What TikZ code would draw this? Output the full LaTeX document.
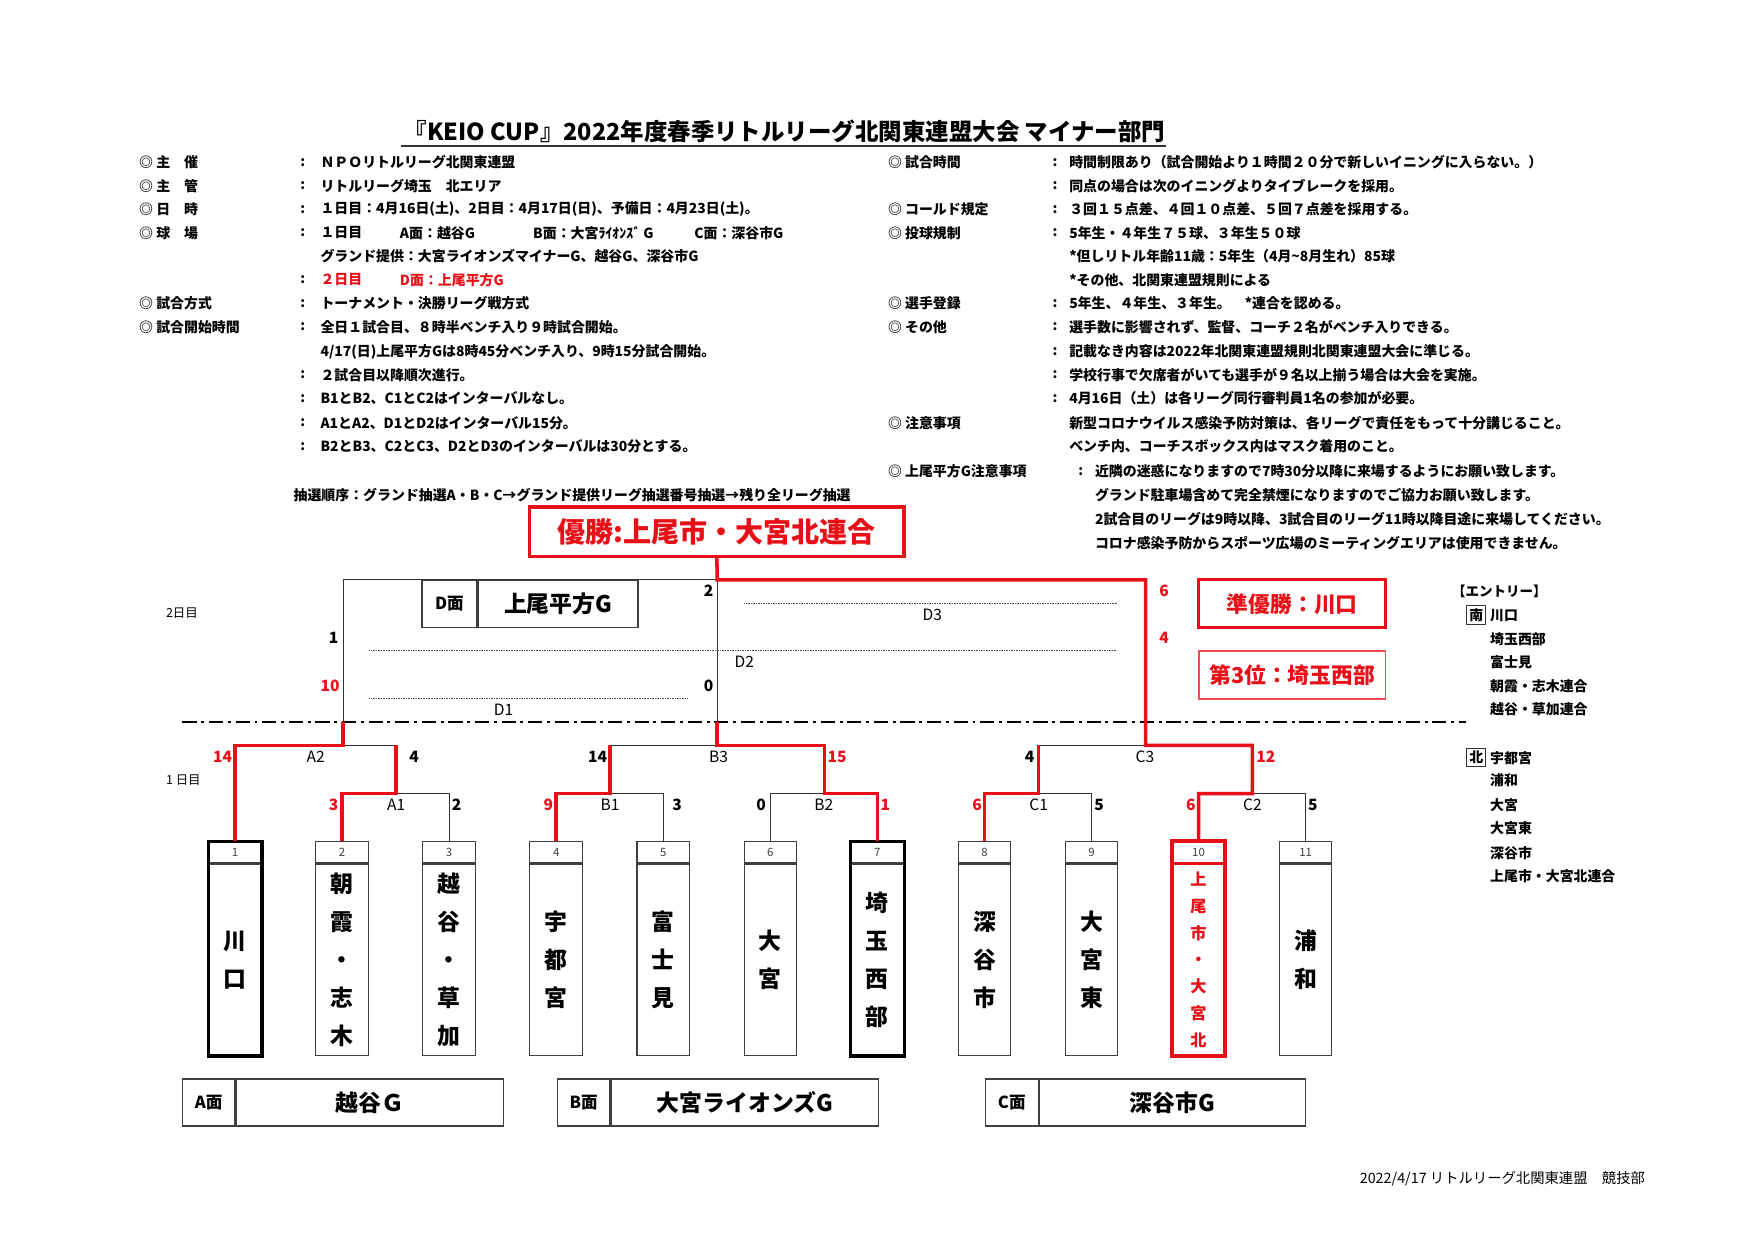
\documentclass[tikz,border=0pt]{standalone}
\usepackage{fontspec}
\setmainfont{Noto Sans CJK JP}
\usepackage{tikz}
\usetikzlibrary{positioning}
\definecolor{cupred}{RGB}{232,16,24}

\tikzset{
  txt/.style={anchor=west, inner sep=0pt, font=\fontsize{6.7}{8}\selectfont\bfseries},
  daytag/.style={anchor=west, inner sep=0pt, font=\fontsize{6}{7}\selectfont},
  tag/.style={inner sep=0pt, font=\fontsize{7.5}{8}\selectfont},
  score/.style={inner sep=0pt, font=\fontsize{7.5}{9}\selectfont\bfseries},
  lose/.style={draw=black!80, line width=0.5pt},
  win/.style={draw=cupred, line width=1.7pt},
  dotline/.style={draw=black!70, line width=0.4pt, dash pattern=on 0.4pt off 0.4pt},
  daysep/.style={draw=black, line width=0.7pt, dash pattern=on 2.4mm off 0.8mm on 0.5mm off 0.8mm},
  numcell/.style={draw=black!75, line width=0.5pt, fill=white, minimum width=8.9mm, minimum height=3.6mm, inner sep=0pt, text=black!75, font=\fontsize{5.5}{6}\selectfont},
  namecell/.style={draw=black!75, line width=0.5pt, minimum width=8.9mm, minimum height=32.39mm, inner sep=0pt, align=center, font=\fontsize{11}{18.3}\selectfont\bfseries},
  redname/.style={text=cupred, font=\fontsize{7.8}{12.9}\selectfont\bfseries},
  blackname/.style={},
  boldbox/.style={draw=black, line width=1.6pt},
  facetag/.style={draw=black!75, line width=0.6pt, minimum width=8.9mm, minimum height=7.95mm, inner sep=0pt, font=\fontsize{8}{9}\selectfont\bfseries},
  facename/.style={draw=black!75, line width=0.6pt, minimum height=7.95mm, inner sep=0pt, font=\fontsize{11}{12}\selectfont\bfseries},
  placebox/.style={minimum width=31.63mm, minimum height=8.1mm, inner sep=0pt, text=cupred, font=\fontsize{10.5}{12}\selectfont\bfseries},
}

\begin{document}
\begin{tikzpicture}[x=0.1894mm, y=-0.1894mm]
\useasboundingbox[fill=white] (0,0) rectangle (1568,1109);

% title
\node[inner sep=0pt, font=\fontsize{11.3}{13}\selectfont\bfseries] (title) at (701,117) {『KEIO CUP』2022年度春季リトルリーグ北関東連盟大会 マイナー部門};
\draw[lose, line width=0.7pt] ([xshift=-0.5mm, yshift=-0.5mm]title.south west) -- ([yshift=-0.5mm]title.south east);

% left column
\node[txt] (lh1) at (124,145) {◎ 主　催};
\node[txt] (lh2) at (124,166) {◎ 主　管};
\node[txt] (lh3) at (124,187) {◎ 日　時};
\node[txt] (lh4) at (124,208) {◎ 球　場};
\node[txt] (lh5) at (124,271) {◎ 試合方式};
\node[txt] (lh6) at (124,292) {◎ 試合開始時間};
\foreach \y [count=\i] in {145,166,187,208,250,271,292,335,356,378,399}
  \node[txt] (lc\i) at (268,\y) {:};
\node[txt] (lt1) at (286,145) {ＮＰＯリトルリーグ北関東連盟};
\node[txt] (lt2) at (286,166) {リトルリーグ埼玉　北エリア};
\node[txt] (lt3) at (286,187) {１日目：4月16日(土)、2日目：4月17日(日)、予備日：4月23日(土)。};
\node[txt] (lt4) at (286,208) {１日目};
\node[txt] (lt4a) at (357,208) {A面：越谷G};
\node[txt] (lt4b) at (476,208) {B面：大宮ﾗｲｵﾝｽﾞ G};
\node[txt] (lt4c) at (620,208) {C面：深谷市G};
\node[txt] (lt5) at (286,229) {グランド提供：大宮ライオンズマイナーG、越谷G、深谷市G};
\node[txt, text=cupred] (lt6) at (286,250) {２日目};
\node[txt, text=cupred] (lt6d) at (357,250) {D面：上尾平方G};
\node[txt] (lt7) at (286,271) {トーナメント・決勝リーグ戦方式};
\node[txt] (lt8) at (286,292) {全日１試合目、８時半ベンチ入り９時試合開始。};
\node[txt] (lt9) at (286,314) {4/17(日)上尾平方Gは8時45分ベンチ入り、9時15分試合開始。};
\node[txt] (lt10) at (286,335) {２試合目以降順次進行。};
\node[txt] (lt11) at (286,356) {B1とB2、C1とC2はインターバルなし。};
\node[txt] (lt12) at (286,378) {A1とA2、D1とD2はインターバル15分。};
\node[txt] (lt13) at (286,399) {B2とB3、C2とC3、D2とD3のインターバルは30分とする。};
\node[txt] (draw) at (262,442) {抽選順序：グランド抽選A・B・C→グランド提供リーグ抽選番号抽選→残り全リーグ抽選};

% right column
\node[txt] (rh1) at (793,145) {◎ 試合時間};
\node[txt] (rh2) at (793,187) {◎ コールド規定};
\node[txt] (rh3) at (793,208) {◎ 投球規制};
\node[txt] (rh4) at (793,271) {◎ 選手登録};
\node[txt] (rh5) at (793,292) {◎ その他};
\node[txt] (rh6) at (793,378) {◎ 注意事項};
\node[txt] (rh7) at (793,421) {◎ 上尾平方G注意事項};
\foreach \y [count=\i] in {145,166,187,208,271,292,314,335,356}
  \node[txt] (rc\i) at (940,\y) {:};
\node[txt] (rc10) at (963,421) {:};
\node[txt] (rt1) at (955,145) {時間制限あり（試合開始より１時間２０分で新しいイニングに入らない。）};
\node[txt] (rt2) at (955,166) {同点の場合は次のイニングよりタイブレークを採用。};
\node[txt] (rt3) at (955,187) {３回１５点差、４回１０点差、５回７点差を採用する。};
\node[txt] (rt4) at (955,208) {5年生・４年生７５球、３年生５０球};
\node[txt] (rt5) at (955,229) {*但しリトル年齢11歳：5年生（4月\textasciitilde 8月生れ）85球};
\node[txt] (rt6) at (955,250) {*その他、北関東連盟規則による};
\node[txt] (rt7) at (955,271) {5年生、４年生、３年生。　*連合を認める。};
\node[txt] (rt8) at (955,292) {選手数に影響されず、監督、コーチ２名がベンチ入りできる。};
\node[txt] (rt9) at (955,314) {記載なき内容は2022年北関東連盟規則北関東連盟大会に準じる。};
\node[txt] (rt10) at (955,335) {学校行事で欠席者がいても選手が９名以上揃う場合は大会を実施。};
\node[txt] (rt11) at (955,356) {4月16日（土）は各リーグ同行審判員1名の参加が必要。};
\node[txt] (rt12) at (955,378) {新型コロナウイルス感染予防対策は、各リーグで責任をもって十分講じること。};
\node[txt] (rt13) at (955,399) {ベンチ内、コーチスボックス内はマスク着用のこと。};
\node[txt] (rt14) at (978,421) {近隣の迷惑になりますので7時30分以降に来場するようにお願い致します。};
\node[txt] (rt15) at (978,442) {グランド駐車場含めて完全禁煙になりますのでご協力お願い致します。};
\node[txt] (rt16) at (978,464) {2試合目のリーグは9時以降、3試合目のリーグ11時以降目途に来場してください。};
\node[txt] (rt17) at (978,485) {コロナ感染予防からスポーツ広場のミーティングエリアは使用できません。};

% results
\node[draw=cupred, line width=1.7pt, minimum width=63.4mm, minimum height=8.33mm, inner sep=0pt, text=cupred, font=\fontsize{13.5}{15}\selectfont\bfseries] (champ) at (640.5,475) {優勝:上尾市・大宮北連合};
\node[placebox, draw=cupred, line width=1.4pt] (second) at (1154.5,539.5) {準優勝：川口};
\node[placebox, draw=cupred!75, line width=0.8pt] (third) at (1154.5,603) {第3位：埼玉西部};

% day tags and separator
\node[daytag] (day2) at (148,548) {2日目};
\node[daytag] (day1) at (148,697) {1 日目};
\draw[daysep] (163,645) -- (1310,645);

% team boxes
\foreach \nm/\st [count=\i] in {{川\\口}/blackname, {朝\\霞\\・\\志\\木}/blackname, {越\\谷\\・\\草\\加}/blackname, {宇\\都\\宮}/blackname, {富\\士\\見}/blackname, {大\\宮}/blackname, {埼\\玉\\西\\部}/blackname, {深\\谷\\市}/blackname, {大\\宮\\東}/blackname, {上\\尾\\市\\・\\大\\宮\\北}/redname, {浦\\和}/blackname} {
  \node[numcell] (n\i) at ({210+(\i-1)*95.65},761.5) {\i};
  \node[namecell, \st, below=0pt of n\i] (t\i) {\nm};
}
\draw[boldbox] (n1.north west) rectangle (t1.south east);
\draw[boldbox] (n7.north west) rectangle (t7.south east);
\draw[boldbox, draw=cupred, line width=1.9pt] (n10.north west) rectangle (t10.south east);
\draw[draw=cupred, line width=1pt] (n10.south west) -- (n10.south east);

% bracket points
\coordinate (a1) at (354,709);
\coordinate (b1) at (545,709);
\coordinate (b2) at (736.5,709);
\coordinate (c1) at (928,709);
\coordinate (c2) at (1119,709);
\coordinate (a2) at (306.5,666);
\coordinate (b3) at (640.75,666);
\coordinate (c3) at (1023.5,666);
\coordinate (da) at (306.5,645);
\coordinate (db) at (640.75,645);
\coordinate (ta) at (306.5,518);
\coordinate (tb) at (640.75,518);
\coordinate (tc) at (1023.5,518);

% D field box
\node[facetag, minimum width=9.28mm, anchor=north] (dtag) at (401.5,518) {D面};
\node[facename, minimum width=27.08mm, right=0pt of dtag] (dname) {上尾平方G};

% league lines
\draw[dotline] (330,624) -- (615,624);
\draw[dotline] (330,581) -- (998,581);
\draw[dotline] (665,539) -- (998,539);

% losers
\draw[lose] (n3.north) |- (a1);
\draw[lose] (n5.north) |- (b1);
\draw[lose] (n6.north) |- (b2);
\draw[lose] (n9.north) |- (c1);
\draw[lose] (n11.north) |- (c2);
\draw[lose] (a1 |- a2) -- (a2);
\draw[lose] (b1 |- b3) -- (b3);
\draw[lose] (c1 |- c3) -- (c3);
\draw[lose] (da) -- (ta) -- (tb) -- (db);

% winners
\draw[win] (n1.north) |- (a2) -- (da);
\draw[win] (n2.north) |- (a1) -- (a1 |- a2);
\draw[win] (n4.north) |- (b1) -- (b1 |- b3);
\draw[win] (n7.north) |- (b2) -- (b2 |- b3) -- (b3) -- (db);
\draw[win] (n8.north) |- (c1) -- (c1 |- c3);
\draw[win] (n10.north) |- (c2) -- (c2 |- c3) -- (c3) -- (tc) -- (tb) -- (champ.south);

% game names
\foreach \x/\y/\s in {354/719/A1, 282/676/A2, 545/719/B1, 736/719/B2, 642/676/B3, 928/719/C1, 1119/719/C2, 1023/676/C3, 450/634/D1, 665/591/D2, 833/549/D3}
  \node[tag] (g\s) at (\x,\y) {\s};

% scores
\foreach \x/\y/\s/\c [count=\i] in {298/719/3/cupred, 408/719/2/black, 490/719/9/cupred, 605/719/3/black, 680/719/0/black, 791/719/1/cupred, 873/719/6/cupred, 982/719/5/black, 1064/719/6/cupred, 1173/719/5/black, 199/676/14/cupred, 370/676/4/black, 534/676/14/black, 748/676/15/cupred, 920/676/4/black, 1131/676/12/cupred, 633/528/2/black, 298/570/1/black, 295/613/10/cupred, 633/613/0/black, 1040/528/6/cupred, 1040/570/4/cupred}
  \node[score, text=\c] (sc\i) at (\x,\y) {\s};

% field boxes
\node[facetag] (atag) at (186.5,985) {A面};
\node[facename, minimum width=45.27mm, right=0pt of atag] (aname) {越谷Ｇ};
\node[facetag] (btag) at (521.5,985) {B面};
\node[facename, minimum width=45.27mm, right=0pt of btag] (bname) {大宮ライオンズG};
\node[facetag] (ctag) at (904,985) {C面};
\node[facename, minimum width=45.08mm, right=0pt of ctag] (cname) {深谷市G};

% entries
\node[txt, font=\fontsize{6.5}{8}\selectfont\bfseries] (entry) at (1297,528) {【エントリー】};
\node[draw=black!80, line width=0.5pt, inner sep=0.45mm, font=\fontsize{6.7}{8}\selectfont\bfseries] (south) at (1319,549.5) {南};
\node[draw=black!80, line width=0.5pt, inner sep=0.45mm, font=\fontsize{6.7}{8}\selectfont\bfseries] (north) at (1319,676.5) {北};
\foreach \t/\y [count=\i] in {川口/550, 埼玉西部/571, 富士見/592, 朝霞・志木連合/613, 越谷・草加連合/634, 宇都宮/677, 浦和/697, 大宮/719, 大宮東/740, 深谷市/762, 上尾市・大宮北連合/783}
  \node[txt] (e\i) at (1331,\y) {\t};

% footer
\node[anchor=east, inner sep=0pt, font=\fontsize{6.9}{8}\selectfont] (foot) at (1470,1053) {2022/4/17 リトルリーグ北関東連盟　競技部};
\end{tikzpicture}
\end{document}
